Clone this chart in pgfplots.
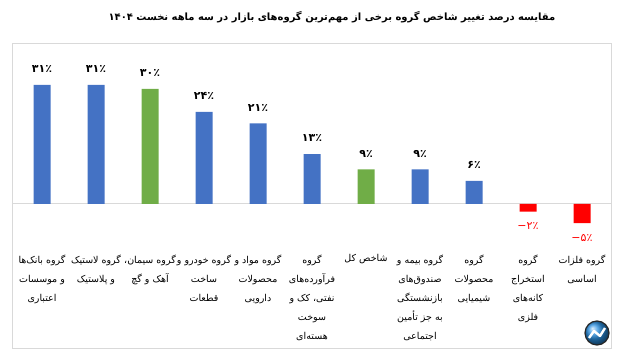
\documentclass[border=0pt]{standalone}
\usepackage{fontspec}
\setmainfont{DejaVu Sans}[Script=Arabic]
\usepackage{pgfplots}
\pgfplotsset{compat=1.18}
\TeXXeTstate=1
\definecolor{barblue}{HTML}{4472C4}
\definecolor{bargreen}{HTML}{70AD47}
\definecolor{barred}{HTML}{FF0000}
\definecolor{framegray}{HTML}{D9D9D9}
\definecolor{logoblue}{HTML}{2A8FE0}
\begin{document}
\begin{tikzpicture}
\path (0pt,0pt) rectangle (624pt,358pt);
\begin{axis}[
  at={(12pt,10pt)}, anchor=south west,
  scale only axis, width=599pt, height=305pt,
  xmin=-0.5556, xmax=10.537, ymin=-37.5, ymax=41.93,
  axis line style={framegray, line width=0.8pt},
  ytick=\empty,
  xtick={0,...,10},
  xticklabels={
    {\beginR گروه بانک‌ها\endR\\\beginR و موسسات\endR\\\beginR اعتباری\endR},
    {\beginR گروه لاستیک\endR\\\beginR و پلاستیک\endR},
    {\beginR گروه سیمان،\endR\\\beginR آهک و گچ\endR},
    {\beginR گروه خودرو و\endR\\\beginR ساخت\endR\\\beginR قطعات\endR},
    {\beginR گروه مواد و\endR\\\beginR محصولات\endR\\\beginR دارویی\endR},
    {\beginR گروه\endR\\\beginR فرآورده‌های\endR\\\beginR نفتی، کک و\endR\\\beginR سوخت\endR\\\beginR هسته‌ای\endR},
    {\beginR شاخص کل\endR},
    {\beginR گروه بیمه و\endR\\\beginR صندوق‌های\endR\\\beginR بازنشستگی\endR\\\beginR به جز تأمین\endR\\\beginR اجتماعی\endR},
    {\beginR گروه\endR\\\beginR محصولات\endR\\\beginR شیمیایی\endR},
    {\beginR گروه\endR\\\beginR استخراج\endR\\\beginR کانه‌های\endR\\\beginR فلزی\endR},
    {\beginR گروه فلزات\endR\\\beginR اساسی\endR}
  },
  major tick length=0pt,
  xticklabel style={font=\fontsize{9.5}{19}\selectfont, align=center, anchor=north, yshift=97pt},
  extra y ticks={0}, extra y tick labels={},
  extra y tick style={grid=major, major grid style={framegray, line width=1pt}},
  ybar, bar width=17pt, bar shift=0pt,
  point meta=explicit symbolic,
  nodes near coords,
  every node near coord/.append style={font=\bfseries\fontsize{11}{13}\selectfont, inner ysep=12pt, text=black},
  clip=false,
]
\addplot[fill=barblue, draw=none] coordinates {(0,31)[۳۱٪] (1,31)[۳۱٪] (3,24)[۲۴٪] (4,21)[۲۱٪] (5,13)[۱۳٪] (7,9)[۹٪] (8,6)[۶٪]};
\addplot[fill=bargreen, draw=none] coordinates {(2,30)[۳۰٪] (6,9)[۹٪]};
\addplot[fill=barred, draw=none, every node near coord/.append style={text=barred, anchor=north, inner ysep=11pt, font=\fontsize{11}{13}\selectfont}] coordinates {(9,-2)[\hbox{−}\hbox{۲٪}] (10,-5)[\hbox{−}\hbox{۵٪}]};
\end{axis}
\node[font=\bfseries\fontsize{10}{13}\selectfont] at (332pt,341pt) {\beginR مقایسه درصد تغییر شاخص گروه برخی از مهم‌ترین گروه‌های بازار در سه ماهه نخست \beginL۱۴۰۴\endL{}\endR};
\shade[ball color=logoblue] (597pt,25pt) circle (12pt);
\draw[black!85, line width=1.2pt] (597pt,25pt) circle (12pt);
\draw[white, line width=2.4pt, line join=round] (589pt,20pt) -- (594pt,27pt) -- (600pt,22pt) -- (605pt,30pt);
\end{tikzpicture}
\end{document}
